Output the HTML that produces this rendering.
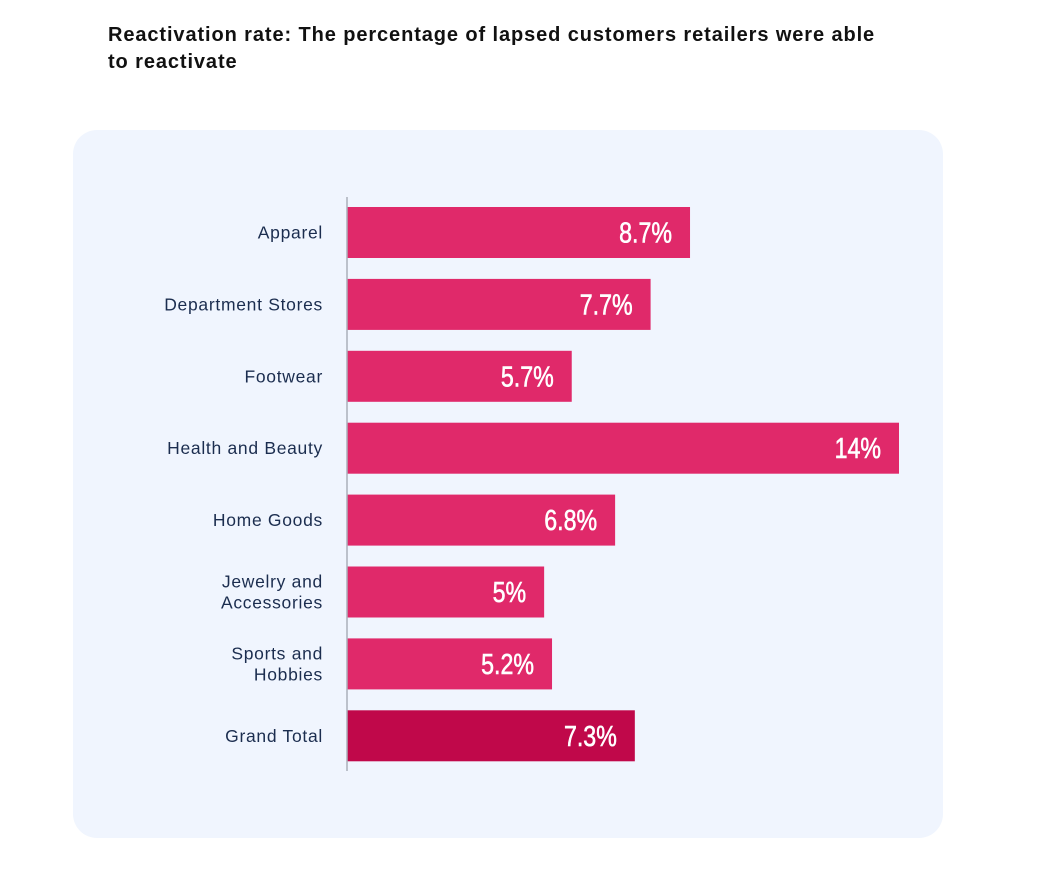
<!DOCTYPE html>
<html><head><meta charset="utf-8"><style>
body{margin:0;width:1041px;height:878px;background:#fff;font-family:"Liberation Sans",sans-serif;position:relative;overflow:hidden}
#title{position:absolute;left:108px;top:22px;font-size:20px;font-weight:bold;color:#111;line-height:27px;width:900px;letter-spacing:0.9px}
#panel{position:absolute;left:73px;top:130px;width:870px;height:708px;background:#f0f5fe;border-radius:24px}
svg{position:absolute;left:0;top:0}
</style></head><body>
<div id="title">Reactivation rate: The percentage of lapsed customers retailers were able<br>to reactivate</div>
<div id="panel"></div>
<svg id="chart" width="1041" height="878"></svg>
<script>
const categories=[["Apparel"],["Department Stores"],["Footwear"],["Health and Beauty"],["Home Goods"],["Jewelry and","Accessories"],["Sports and ","Hobbies"],["Grand Total"]];
const values=[8.7,7.7,5.7,14,6.8,5,5.2,7.3];
const valueLabels=["8.7%","7.7%","5.7%","14%","6.8%","5%","5.2%","7.3%"];
const ns="http://www.w3.org/2000/svg";
const svg=document.getElementById('chart');
const x0=347,pxPer=(899-347)/14;
const xs=v=>x0+v*pxPer;
const ys=i=>207+i*71.9;
const bh=51;
function mk(t,a){const e=document.createElementNS(ns,t);for(const k in a)e.setAttribute(k,a[k]);svg.appendChild(e);return e;}
values.forEach((v,i)=>{
  const r=mk('rect',{x:x0,y:ys(i),width:xs(v)-x0,height:bh,fill:i===values.length-1?'#c0084a':'#e0296a'});
  
  
  const t=mk('text',{x:0,y:0,transform:`translate(${xs(v)-18},${ys(i)+bh/2+10}) scale(0.8,1)`,'text-anchor':'end',fill:'#fff','font-size':'29','stroke':'#fff','stroke-width':'0.6'});
  t.textContent=valueLabels[i];
  
  
  const lines=categories[i];
  const cy=ys(i)+bh/2;
  lines.forEach((ln,j)=>{
    const l=mk('text',{x:323,y:cy+6+(j-(lines.length-1)/2)*21,'text-anchor':'end',fill:'#1b2d4f','font-size':'17.5','letter-spacing':'0.7'});
    l.setAttribute('xml:space','preserve');
    l.textContent=ln;
    
    
  });
});
const ax=mk('line',{x1:x0,y1:197,x2:x0,y2:771,stroke:'#aab0ba','stroke-width':1.5});


</script>
</body></html>
